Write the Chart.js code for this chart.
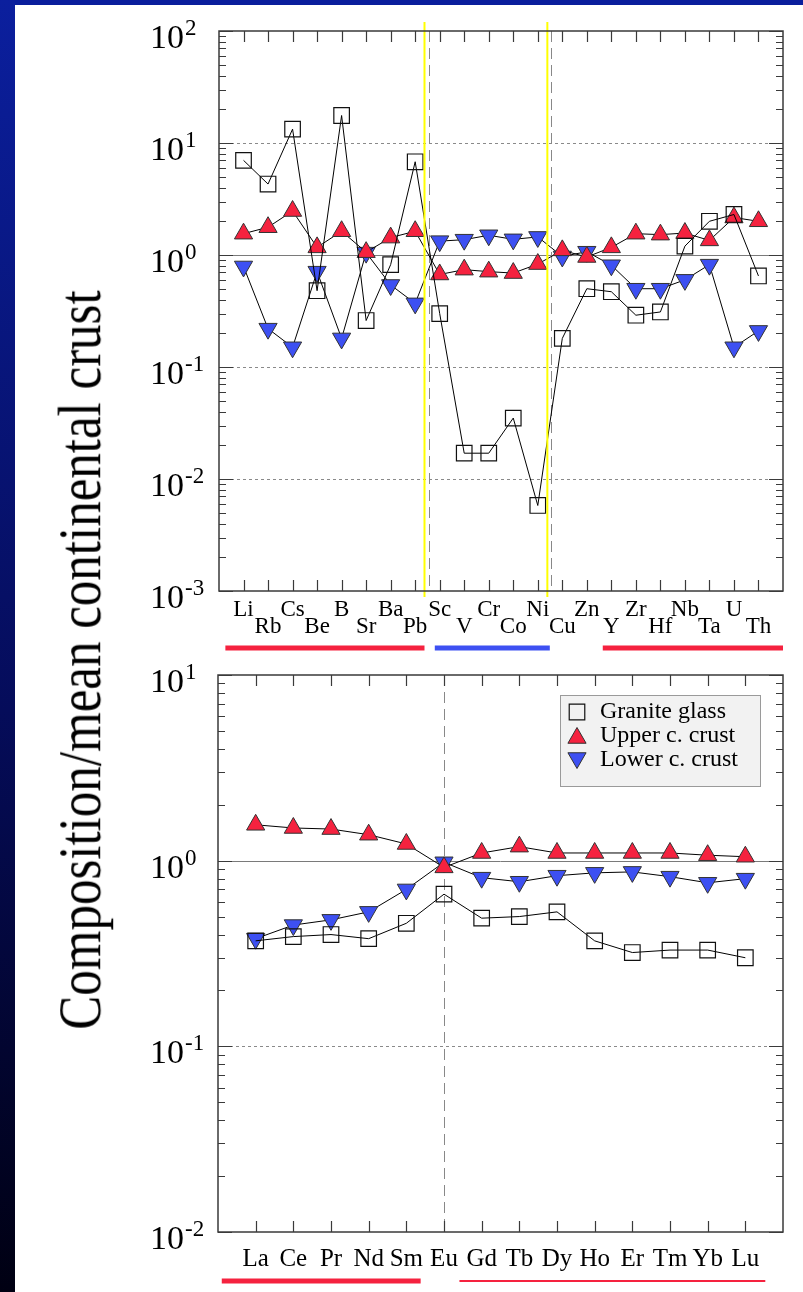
<!DOCTYPE html>
<html>
<head>
<meta charset="utf-8">
<script src="https://cdn.jsdelivr.net/npm/chart.js@4.4.1/dist/chart.umd.min.js"></script>
<style>
  html, body { margin: 0; padding: 0; background: #fff; }
  #page { position: relative; width: 803px; height: 1292px; overflow: hidden; background: #fff; }
  #topbar { position: absolute; left: 0; top: 0; width: 803px; height: 5px; background: #0a1e9c; }
  #sidebar { position: absolute; left: 0; top: 0; width: 15px; height: 1292px; background: linear-gradient(#0b1f9e, #050c5a 55%, #000012); }
  canvas { position: absolute; left: 0; }
  #ytitle {
    position: absolute; left: 80px; top: 660px;
    transform: translate(-50%, -50%) rotate(-90deg) scaleY(1.2);
    font: 51px 'Liberation Serif', 'Times New Roman', serif;
    white-space: nowrap; color: #000;
  }
</style>
</head>
<body>
<div id="page">
  <canvas id="topChart" width="803" height="665" style="top:0; width:803px; height:665px"></canvas>
  <canvas id="reeChart" width="803" height="642" style="top:650px; width:803px; height:642px"></canvas>
  <div id="ytitle">Composition/mean continental crust</div>
  <div id="topbar"></div>
  <div id="sidebar"></div>
</div>
<script>
// upper panel: trace elements, normalised to mean continental crust
const topElements = ['Li', 'Rb', 'Cs', 'Be', 'B', 'Sr', 'Ba', 'Pb', 'Sc', 'V', 'Cr', 'Co', 'Ni', 'Cu', 'Zn', 'Y', 'Zr', 'Hf', 'Nb', 'Ta', 'U', 'Th'];
const topGranite = [7.0, 4.3, 13.3, 0.48, 17.6, 0.26, 0.82, 6.8, 0.30, 0.017, 0.017, 0.035, 0.0058, 0.18, 0.50, 0.47, 0.29, 0.31, 1.2, 2.0, 2.3, 0.65];
const topUpper = [1.55, 1.77, 2.47, 1.17, 1.63, 1.06, 1.43, 1.63, 0.67, 0.74, 0.71, 0.69, 0.83, 1.10, 0.96, 1.17, 1.55, 1.52, 1.57, 1.35, 2.16, 2.0];
const topLower = [0.79, 0.22, 0.15, 0.71, 0.18, 1.05, 0.54, 0.37, 1.33, 1.37, 1.5, 1.38, 1.45, 0.97, 1.07, 0.81, 0.50, 0.50, 0.60, 0.82, 0.15, 0.21];
const topPowers = [2, 1, 0, -1, -2, -3];

// lower panel: rare earth elements
const reeElements = ['La', 'Ce', 'Pr', 'Nd', 'Sm', 'Eu', 'Gd', 'Tb', 'Dy', 'Ho', 'Er', 'Tm', 'Yb', 'Lu'];
const reeGranite = [0.37, 0.39, 0.40, 0.38, 0.46, 0.66, 0.49, 0.50, 0.53, 0.37, 0.32, 0.33, 0.33, 0.30];
const reeUpper = [1.56, 1.50, 1.48, 1.38, 1.23, 0.92, 1.10, 1.19, 1.10, 1.10, 1.10, 1.10, 1.07, 1.05];
const reeLower = [0.38, 0.45, 0.48, 0.53, 0.70, 0.98, 0.81, 0.77, 0.83, 0.86, 0.87, 0.82, 0.76, 0.80];
const reePowers = [1, 0, -1, -2];

const SERIF = "'Liberation Serif', 'Times New Roman', serif";
const RED = '#f5223f';
const BLUE = '#3d50f2';
const AXIS = '#3a3a3a';

function pointsOf(values) {
  return values.map((v, i) => ({ x: i, y: v }));
}

function seriesSets(granite, upper, lower) {
  return [
    { label: 'Granite glass', data: pointsOf(granite), pointStyle: 'rect', pointRadius: 11,
      pointBackgroundColor: 'rgba(0,0,0,0)', pointBorderColor: '#111', pointBorderWidth: 1.2,
      borderColor: '#000', borderWidth: 1, tension: 0 },
    { label: 'Upper c. crust', data: pointsOf(upper), pointStyle: 'triangle', pointRadius: 10.5,
      pointBackgroundColor: RED, pointBorderColor: '#333', pointBorderWidth: 1,
      borderColor: '#000', borderWidth: 1, tension: 0 },
    { label: 'Lower c. crust', data: pointsOf(lower), pointStyle: 'triangle', pointRotation: 180, pointRadius: 10.5,
      pointBackgroundColor: BLUE, pointBorderColor: '#333', pointBorderWidth: 1,
      borderColor: '#000', borderWidth: 1, tension: 0 }
  ];
}

// small marker used in the legend box
function marker(ctx, ds, x, y) {
  const r = ds.pointRadius;
  ctx.save();
  ctx.lineWidth = ds.pointBorderWidth;
  ctx.strokeStyle = ds.pointBorderColor;
  ctx.fillStyle = ds.pointBackgroundColor;
  ctx.beginPath();
  if (ds.pointStyle === 'rect') {
    const s = Math.SQRT1_2 * r;
    ctx.rect(x - s, y - s, 2 * s, 2 * s);
  } else {
    const dir = ds.pointRotation === 180 ? -1 : 1;
    ctx.moveTo(x, y - dir * r);
    ctx.lineTo(x + r * 0.866, y + dir * r / 2);
    ctx.lineTo(x - r * 0.866, y + dir * r / 2);
    ctx.closePath();
  }
  ctx.fill();
  ctx.stroke();
  ctx.restore();
}

function decor(cfg) {
  return {
    id: 'decor',
    beforeDatasetsDraw(chart) {
      const { ctx, chartArea: a, scales: { x, y } } = chart;
      ctx.save();
      ctx.lineWidth = 1;
      cfg.powers.forEach(p => {
        const py = Math.round(y.getPixelForValue(Math.pow(10, p))) + 0.5;
        if (py <= a.top + 2 || py >= a.bottom - 2) return;
        ctx.beginPath();
        ctx.setLineDash(p === 0 ? [] : [3, 3]);
        ctx.strokeStyle = p === 0 ? '#7a7a7a' : '#8a8a8a';
        ctx.moveTo(a.left, py);
        ctx.lineTo(a.right, py);
        ctx.stroke();
      });
      ctx.setLineDash([11, 6]);
      ctx.strokeStyle = '#888';
      cfg.dashed.forEach(v => {
        const px = Math.round(x.getPixelForValue(v)) + 0.5;
        ctx.beginPath();
        ctx.moveTo(px, a.top);
        ctx.lineTo(px, a.bottom);
        ctx.stroke();
      });
      ctx.restore();
    },
    afterDraw(chart) {
      const { ctx, chartArea: a, scales: { x, y } } = chart;
      ctx.save();

      // yellow markers between element groups
      ctx.strokeStyle = '#ffff00';
      ctx.lineWidth = 2;
      cfg.yellow.forEach(v => {
        const px = x.getPixelForValue(v);
        ctx.beginPath();
        ctx.moveTo(px, a.top - 9);
        ctx.lineTo(px, a.bottom + 6);
        ctx.stroke();
      });

      // frame
      ctx.strokeStyle = AXIS;
      ctx.lineWidth = 1.5;
      ctx.strokeRect(a.left, a.top, a.right - a.left, a.bottom - a.top);

      // inward ticks
      ctx.lineWidth = 1.2;
      ctx.beginPath();
      for (let i = 0; i < cfg.count; i++) {
        const px = Math.round(x.getPixelForValue(i)) + 0.5;
        ctx.moveTo(px, a.bottom); ctx.lineTo(px, a.bottom - 11);
        ctx.moveTo(px, a.top); ctx.lineTo(px, a.top + 11);
      }
      const pmin = Math.min(...cfg.powers), pmax = Math.max(...cfg.powers);
      for (let p = pmin; p <= pmax; p++) {
        for (let m = 1; m <= 9; m++) {
          const v = m * Math.pow(10, p);
          if (v > y.max * 1.0001) break;
          const py = Math.round(y.getPixelForValue(v)) + 0.5;
          const len = m === 1 ? 14 : 7;
          ctx.moveTo(a.left, py); ctx.lineTo(a.left + len, py);
          ctx.moveTo(a.right, py); ctx.lineTo(a.right - len, py);
        }
      }
      ctx.stroke();

      // power-of-ten labels
      ctx.fillStyle = '#000';
      ctx.textAlign = 'left';
      ctx.textBaseline = 'alphabetic';
      cfg.powers.forEach(p => {
        const py = y.getPixelForValue(Math.pow(10, p));
        ctx.font = '34px ' + SERIF;
        ctx.fillText('10', 150, py + 17);
        const w = ctx.measureText('10').width;
        ctx.font = '23px ' + SERIF;
        ctx.fillText(String(p), 150 + w + 1, py + 4);
      });

      // coloured group underlines
      cfg.bars.forEach(b => {
        const x0 = Math.max(a.left - 30, x.getPixelForValue(b.from));
        const x1 = Math.min(a.right + 1, x.getPixelForValue(b.to));
        ctx.fillStyle = b.color;
        ctx.fillRect(x0, a.bottom + cfg.barOffset - b.width / 2, x1 - x0, b.width);
      });

      // legend box
      if (cfg.legend) {
        const lx = a.right - 223, ly = a.top + 20;
        ctx.fillStyle = '#f2f2f2';
        ctx.fillRect(lx, ly, 200, 91);
        ctx.strokeStyle = '#9a9a9a';
        ctx.lineWidth = 1;
        ctx.strokeRect(lx + 0.5, ly + 0.5, 200, 91);
        ctx.font = '24px ' + SERIF;
        ctx.textBaseline = 'middle';
        chart.data.datasets.forEach((ds, i) => {
          const ry = ly + 17 + i * 24;
          marker(ctx, ds, lx + 17, ry + (ds.pointStyle === 'triangle' ? (ds.pointRotation === 180 ? -2 : 2) : 0));
          ctx.fillStyle = '#000';
          ctx.fillText(ds.label, lx + 40, ry);
        });
      }
      ctx.restore();
    }
  };
}

function makeChart(id, opts) {
  const n = opts.labels.length;
  return new Chart(document.getElementById(id), {
    type: 'line',
    data: { datasets: seriesSets(opts.granite, opts.upper, opts.lower) },
    options: {
      responsive: false,
      animation: false,
      events: [],
      layout: { padding: { left: 0, right: 20, top: opts.padTop, bottom: 0 } },
      plugins: { legend: { display: false }, tooltip: { enabled: false } },
      scales: {
        x: {
          type: 'linear', min: -1, max: n,
          grid: { display: false, drawTicks: false },
          border: { display: false },
          ticks: {
            stepSize: 1, autoSkip: false, maxRotation: 0, color: '#000',
            padding: opts.labelPad,
            font: { family: SERIF, size: opts.labelSize, lineHeight: opts.labelLine },
            callback: v => {
              const i = Math.round(v);
              if (i < 0 || i >= n) return '';
              if (!opts.stagger) return opts.labels[i];
              return i % 2 === 0 ? [opts.labels[i], ''] : ['', opts.labels[i]];
            }
          },
          afterFit: s => { s.height = opts.xHeight; }
        },
        y: {
          type: 'logarithmic', min: opts.min, max: opts.max,
          grid: { display: false, drawTicks: false },
          border: { display: false },
          ticks: { display: false },
          afterFit: s => { s.width = opts.yWidth; }
        }
      }
    },
    plugins: [decor({
      count: n, powers: opts.powers, dashed: opts.dashed, yellow: opts.yellow,
      bars: opts.bars, barOffset: opts.barOffset, legend: opts.legend
    })]
  });
}

makeChart('topChart', {
  labels: topElements, granite: topGranite, upper: topUpper, lower: topLower,
  powers: topPowers, min: 1e-3, max: 1e2,
  padTop: 31, xHeight: 74, yWidth: 219,
  labelSize: 23, labelLine: 0.72, labelPad: 11, stagger: true,
  dashed: [7.57, 12.55], yellow: [7.38, 12.39],
  bars: [
    { from: -0.74, to: 7.38, color: RED, width: 5 },
    { from: 7.8, to: 12.49, color: BLUE, width: 5 },
    { from: 14.65, to: 22, color: RED, width: 5 }
  ],
  barOffset: 57, legend: false
});

makeChart('reeChart', {
  labels: reeElements, granite: reeGranite, upper: reeUpper, lower: reeLower,
  powers: reePowers, min: 1e-2, max: 1e1,
  padTop: 25, xHeight: 60, yWidth: 218,
  labelSize: 25, labelLine: 1.2, labelPad: 12, stagger: false,
  dashed: [5], yellow: [],
  bars: [
    { from: -0.9, to: 4.38, color: RED, width: 5 },
    { from: 5.41, to: 13.53, color: RED, width: 2 }
  ],
  barOffset: 49, legend: true
});
</script>
</body>
</html>
